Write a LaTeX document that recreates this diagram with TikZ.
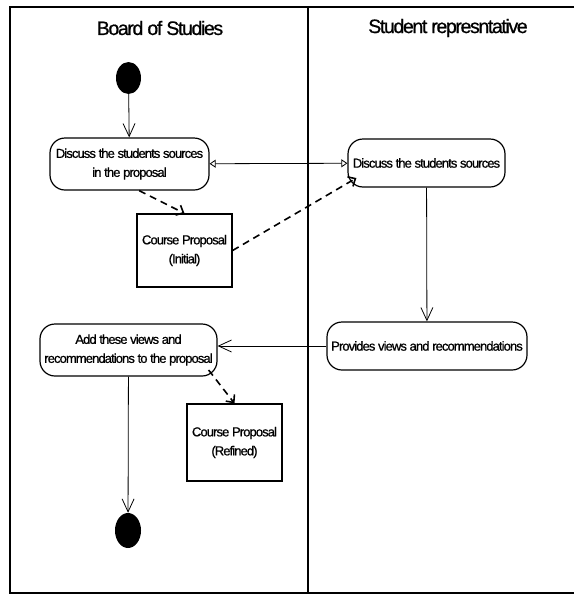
\documentclass[tikz,border=0pt]{standalone}
\usepackage{fontspec}
\setmainfont{Liberation Sans}[LetterSpace=-7, FakeBold=0.8]
\usetikzlibrary{arrows.meta,shapes.geometric}

\begin{document}
\begin{tikzpicture}[x=1pt,y=-1pt,
  lane/.style={line width=2pt},
  activity/.style={draw, line width=1.2pt, rounded corners=15pt, inner sep=0pt, align=center, font=\fontsize{13}{19}\selectfont},
  objbox/.style={draw, line width=1.2pt, inner sep=0pt, minimum width=95pt, align=center, font=\fontsize{13}{19}\selectfont},
  dot/.style={ellipse, fill=black, inner sep=0pt},
  flow/.style={line width=0.8pt, -{Straight Barb[length=13pt,width=12pt]}},
  talk/.style={line width=0.8pt, {Triangle[open,length=6pt,width=8pt]}-{Triangle[open,length=6pt,width=8pt]}},
  dep/.style={line width=1.6pt, dash pattern=on 7pt off 5pt, -{Straight Barb[length=6pt,width=11pt]}}]
\useasboundingbox (0,0) rectangle (574,595);

% swimlanes
\draw [lane] (574,7) -- (10,7) -- (10,593) -- (574,593);
\draw [lane, line width=2.4pt] (308,7) -- (308,593);
\node (boardHead) at (160,28) {\fontsize{19.5}{20}\selectfont Board of Studies};
\node (repHead) at (448,28) {\fontsize{19.5}{20}\selectfont Student represntative};

\node [dot, minimum width=25pt, minimum height=32pt] (start) at (128.5,78) {};
\node [activity, minimum width=159pt, minimum height=52pt] (discussBoard) at (129.5,164) {Discuss the students sources\\in the proposal};
\node [activity, minimum width=157pt, minimum height=48pt] (discussRep) at (426.5,163) {Discuss the students sources};
\node [objbox, minimum height=73pt] (propInitial) at (184.5,250.5) {Course Proposal\\(Initial)};
\node [activity, minimum width=200pt, minimum height=48pt] (provideViews) at (427,346) {Provides views and recommendations};
\node [activity, minimum width=177pt, minimum height=52pt] (addViews) at (128.5,350) {Add these views and\\recommendations to the proposal};
\node [objbox, minimum height=77pt] (propRefined) at (234.5,442.5) {Course Proposal\\(Refined)};
\node [dot, minimum width=26pt, minimum height=35pt] (finish) at (128,530.5) {};

\draw [flow] (start) -- (discussBoard);
\draw [talk] (discussBoard) -- (discussRep);
\draw [dep] (discussBoard.-70) -- (propInitial.north);
\draw [dep] (propInitial.east) -- ([xshift=9pt,yshift=-15pt]discussRep.west);
\draw [flow] (discussRep) -- (provideViews);
\draw [flow] (provideViews.west) -- (addViews.east |- provideViews.west);
\draw [dep] ([xshift=-9pt,yshift=-20pt]addViews.east) -- (propRefined.north);
\draw [flow] (addViews) -- (finish);
\end{tikzpicture}
\end{document}
